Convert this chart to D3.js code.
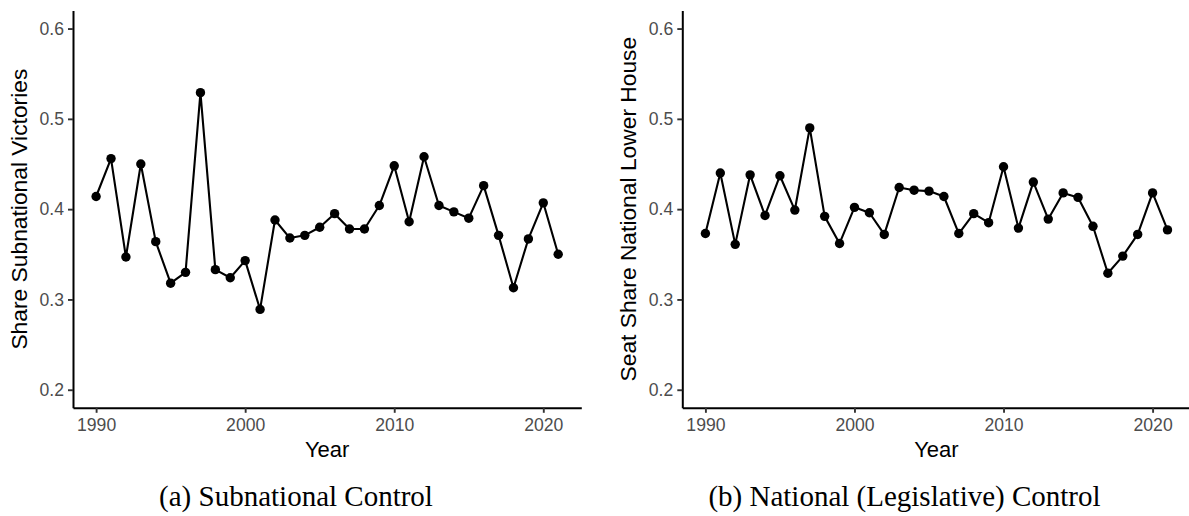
<!DOCTYPE html>
<html>
<head>
<meta charset="utf-8">
<script src="https://cdn.jsdelivr.net/npm/d3@7"></script>
<style>
  html, body { margin: 0; padding: 0; background: #fff; }
  svg { display: block; }
</style>
</head>
<body>
<svg id="chart" width="1189" height="516"></svg>
<script>
// Yearly series, 1990–2021
const years = d3.range(1990, 2022);
const subnationalShare = [
  0.414, 0.456, 0.347, 0.450, 0.364, 0.318, 0.330, 0.529, 0.333, 0.324,
  0.343, 0.289, 0.388, 0.368, 0.371, 0.380, 0.395, 0.378, 0.378, 0.404,
  0.448, 0.386, 0.458, 0.404, 0.397, 0.390, 0.426, 0.371, 0.313, 0.367,
  0.407, 0.350
];
const nationalSeatShare = [
  0.373, 0.440, 0.361, 0.438, 0.393, 0.437, 0.399, 0.490, 0.392, 0.362,
  0.402, 0.396, 0.372, 0.424, 0.421, 0.420, 0.414, 0.373, 0.395, 0.385,
  0.447, 0.379, 0.430, 0.389, 0.418, 0.413, 0.381, 0.329, 0.348, 0.372,
  0.418, 0.377
];
const yTicks = [0.2, 0.3, 0.4, 0.5, 0.6];
const xTicks = [1990, 2000, 2010, 2020];
const yLimits = [0.2, 0.6];

const panels = [
  { values: subnationalShare, yTitle: "Share Subnational Victories",
    caption: "(a) Subnational Control", left: 73, captionX: 296 },
  { values: nationalSeatShare, yTitle: "Seat Share National Lower House",
    caption: "(b) National (Legislative) Control", left: 682.3, captionX: 904.5 }
];

const svg = d3.select("#chart");
const plotTop = 10.5, plotBottom = 407.8, panelW = 508.3;

// ggplot-style 5% expansion of both scales
const xSpan = years[years.length - 1] - years[0];
const xDomain = [years[0] - 0.05 * xSpan, years[years.length - 1] + 0.05 * xSpan];
const ySpan = yLimits[1] - yLimits[0];
const yDomain = [yLimits[0] - 0.05 * ySpan, yLimits[1] + 0.05 * ySpan];

const y = d3.scaleLinear().domain(yDomain).range([plotBottom, plotTop]);

panels.forEach(p => {
  const x = d3.scaleLinear().domain(xDomain).range([p.left, p.left + panelW]);
  const g = svg.append("g");

  // axes
  const xAxis = d3.axisBottom(x).tickValues(xTicks).tickFormat(d3.format("d"))
    .tickSizeInner(5).tickSizeOuter(0).tickPadding(4);
  const yAxis = d3.axisLeft(y).tickValues(yTicks).tickFormat(d3.format(".1f"))
    .tickSizeInner(5).tickSizeOuter(0).tickPadding(4);

  const gx = g.append("g").attr("transform", `translate(0,${plotBottom})`).call(xAxis);
  const gy = g.append("g").attr("transform", `translate(${p.left},0)`).call(yAxis);

  [gx, gy].forEach(a => {
    a.select(".domain").attr("stroke", "#000").attr("stroke-width", 2);
    a.selectAll(".tick line").attr("stroke", "#333").attr("stroke-width", 1.9);
    a.selectAll(".tick text")
      .attr("fill", "#4d4d4d")
      .style("font-family", "'Liberation Sans', Arial, sans-serif")
      .style("font-size", "17.6px");
  });
  gx.selectAll(".tick text").attr("dy", "0.78em");

  // series line and points
  const pts = years.map((yr, i) => [yr, p.values[i]]);
  g.append("path")
    .datum(pts)
    .attr("fill", "none")
    .attr("stroke", "#000")
    .attr("stroke-width", 2.1)
    .attr("stroke-linejoin", "round")
    .attr("d", d3.line().x(d => x(d[0])).y(d => y(d[1])));

  g.selectAll("circle.pt")
    .data(pts)
    .join("circle")
    .attr("class", "pt")
    .attr("cx", d => x(d[0]))
    .attr("cy", d => y(d[1]))
    .attr("r", 4.7)
    .attr("fill", "#000");

  // axis titles
  g.append("text")
    .attr("x", p.left + panelW / 2)
    .attr("y", 456.5)
    .attr("text-anchor", "middle")
    .style("font-family", "'Liberation Sans', Arial, sans-serif")
    .style("font-size", "22px")
    .attr("fill", "#000")
    .text("Year");

  g.append("text")
    .attr("transform", `translate(${p.left - 46.3},${(plotTop + plotBottom) / 2}) rotate(-90)`)
    .attr("text-anchor", "middle")
    .style("font-family", "'Liberation Sans', Arial, sans-serif")
    .style("font-size", "22.8px")
    .attr("fill", "#000")
    .text(p.yTitle);

  // sub-figure caption
  svg.append("text")
    .attr("x", p.captionX)
    .attr("y", 505.5)
    .attr("text-anchor", "middle")
    .style("font-family", "'Liberation Serif', 'Times New Roman', serif")
    .style("font-size", "29px")
    .attr("fill", "#000")
    .text(p.caption);
});
</script>
</body>
</html>
